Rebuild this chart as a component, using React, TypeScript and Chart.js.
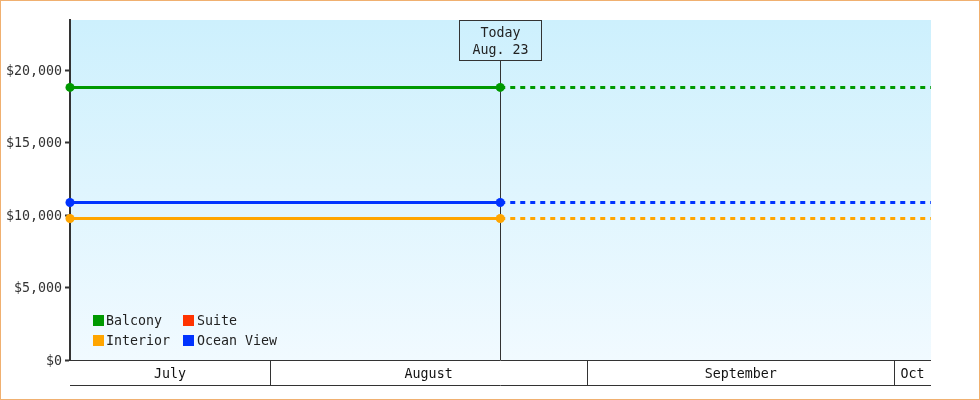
import React, { useEffect, useRef } from "react";
import { Chart, registerables } from "chart.js";

Chart.register(...registerables);

// x values are days counted from Aug 1 (0 = Aug 1 00:00)
const xMin = -19.55;
const xMax = 64.6;
const todayValue = 22.5;
const todayLines = ["Today", "Aug. 23"];

const seriesNames = ["Balcony", "Suite", "Interior", "Ocean View"];
const seriesColors = ["#009900", "#ff3300", "#ffa500", "#0033ff"];
const pointX = [xMin, todayValue, xMax];
const balconyValues = [18800, 18800, 18800];
const suiteValues: number[] = [];
const interiorValues = [9760, 9760, 9760];
const oceanViewValues = [10860, 10860, 10860];

const monthLabels = ["July", "August", "September", "Oct"];
const monthStarts = [-31, 0, 31, 61];
const monthEnds = [0, 31, 61, 92];

const yMax = 23450;
const yStep = 5000;

const FONT = "'DejaVu Sans Mono', monospace";
const FSIZE = 13.3;

function toPoints(vals: number[]) {
  return vals.map((v, i) => ({ x: pointX[i], y: v }));
}

const overlayPlugin = {
  id: "overlay",
  beforeDatasetsDraw(chart: any) {
    const { ctx, chartArea } = chart;
    const xs = chart.scales.x;
    const tx = Math.round(xs.getPixelForValue(todayValue)) + 0.5;
    ctx.save();
    ctx.strokeStyle = "#333";
    ctx.lineWidth = 1;
    ctx.beginPath();
    ctx.moveTo(tx, chartArea.top + 40);
    ctx.lineTo(tx, chartArea.bottom);
    ctx.stroke();
    ctx.restore();
  },
  beforeDraw(chart: any) {
    const { ctx, chartArea } = chart;
    const g = ctx.createLinearGradient(0, chartArea.top, 0, chartArea.bottom);
    g.addColorStop(0, "#cdf0fd");
    g.addColorStop(1, "#f1faff");
    ctx.save();
    ctx.fillStyle = g;
    ctx.fillRect(chartArea.left, chartArea.top, chartArea.right - chartArea.left, chartArea.bottom - chartArea.top);
    ctx.restore();
  },
  afterDraw(chart: any) {
    const { ctx, chartArea, width, height } = chart;
    const xs = chart.scales.x;
    ctx.save();
    // Today box
    ctx.font = FSIZE + "px " + FONT;
    const tw = Math.max(...todayLines.map((t) => ctx.measureText(t).width));
    const bw = Math.round(tw + 26);
    const tx = Math.round(xs.getPixelForValue(todayValue));
    const bx = tx - Math.round(bw / 2) + 0.5;
    const by = chartArea.top + 0.5;
    ctx.strokeStyle = "#333";
    ctx.lineWidth = 1;
    ctx.strokeRect(bx, by, bw, 40);
    ctx.fillStyle = "#222";
    ctx.textAlign = "center";
    ctx.textBaseline = "middle";
    ctx.fillText(todayLines[0], tx + 0.5, by + 13.5);
    ctx.fillText(todayLines[1], tx + 0.5, by + 30.5);

    // Month band
    const top = Math.round(chartArea.bottom) + 0.5;
    const bot = top + 25;
    ctx.beginPath();
    ctx.moveTo(chartArea.left, top);
    ctx.lineTo(chartArea.right, top);
    ctx.moveTo(chartArea.left, bot);
    ctx.lineTo(chartArea.right, bot);
    for (let i = 0; i < monthStarts.length; i++) {
      const s = monthStarts[i];
      if (s > xs.min && s < xs.max) {
        const px = Math.round(xs.getPixelForValue(s)) + 0.5;
        ctx.moveTo(px, top);
        ctx.lineTo(px, bot);
      }
    }
    ctx.stroke();
    ctx.fillStyle = "#111";
    for (let i = 0; i < monthLabels.length; i++) {
      const s = Math.max(monthStarts[i], xs.min);
      const e = Math.min(monthEnds[i], xs.max);
      if (e <= s) continue;
      const c = (xs.getPixelForValue(s) + xs.getPixelForValue(e)) / 2;
      ctx.fillText(monthLabels[i], c, top + 14.5);
    }

    // Legend
    ctx.textAlign = "left";
    const lx0 = chartArea.left + 23;
    const ly0 = chartArea.bottom - 45;
    chart.data.datasets.forEach((ds: any, i: number) => {
      const col = i % 2;
      const row = Math.floor(i / 2);
      const x = lx0 + col * 90;
      const y = ly0 + row * 20;
      ctx.fillStyle = ds.borderColor;
      ctx.fillRect(x, y, 11, 11);
      ctx.fillStyle = "#222";
      ctx.fillText(ds.label, x + 13 + col, y + 7);
    });

    // outer frame
    ctx.strokeStyle = "#f0b070";
    ctx.lineWidth = 1;
    ctx.strokeRect(0.5, 0.5, width - 1, height - 1);
    ctx.restore();
  },
};

export default function App() {
  const ref = useRef<HTMLCanvasElement | null>(null);
  useEffect(() => {
    if (!ref.current) return;
    const valueLists = [balconyValues, suiteValues, interiorValues, oceanViewValues];
    const chart = new Chart(ref.current, {
      type: "line",
      data: {
        datasets: seriesNames.map((name, i) => ({
          label: name,
          data: toPoints(valueLists[i]),
          borderColor: seriesColors[i],
          backgroundColor: seriesColors[i],
          pointBackgroundColor: seriesColors[i],
          pointBorderWidth: 0,
          pointRadius: [4.5, 4.5, 0],
          borderWidth: 3,
          fill: false,
          clip: false,
          segment: {
            borderDash: (c: any) => (c.p0.parsed.x >= todayValue ? [5, 5] : undefined),
          },
        })),
      },
      options: {
        responsive: false,
        animation: false,
        devicePixelRatio: 1,
        layout: { padding: { top: 20, right: 49, bottom: 40, left: 0 } },
        plugins: { legend: { display: false }, tooltip: { enabled: false } },
        scales: {
          x: { type: "linear", min: xMin, max: xMax, display: false },
          y: {
            min: 0,
            max: yMax,
            afterFit: (s: any) => {
              s.width = 70;
            },
            afterBuildTicks: (s: any) => {
              const t = [];
              for (let v = 0; v <= yMax; v += yStep) t.push({ value: v });
              s.ticks = t;
            },
            grid: {
              drawOnChartArea: false,
              drawTicks: true,
              tickLength: 5,
              tickColor: "#333",
              tickWidth: 2,
              color: "#333",
            },
            border: { display: true, color: "#333", width: 2 },
            ticks: {
              padding: 3,
              labelOffset: 1.5,
              color: "#333",
              font: { family: FONT, size: FSIZE },
              callback: (v: any) => "$" + Number(v).toLocaleString("en-US"),
            },
          },
        },
      },
      plugins: [overlayPlugin],
    });
    return () => chart.destroy();
  }, []);
  return (
    <div style={{ position: "absolute", left: 0, top: 0, width: 980, height: 400 }}>
      <canvas ref={ref} width={980} height={400} style={{ display: "block" }} />
    </div>
  );
}
